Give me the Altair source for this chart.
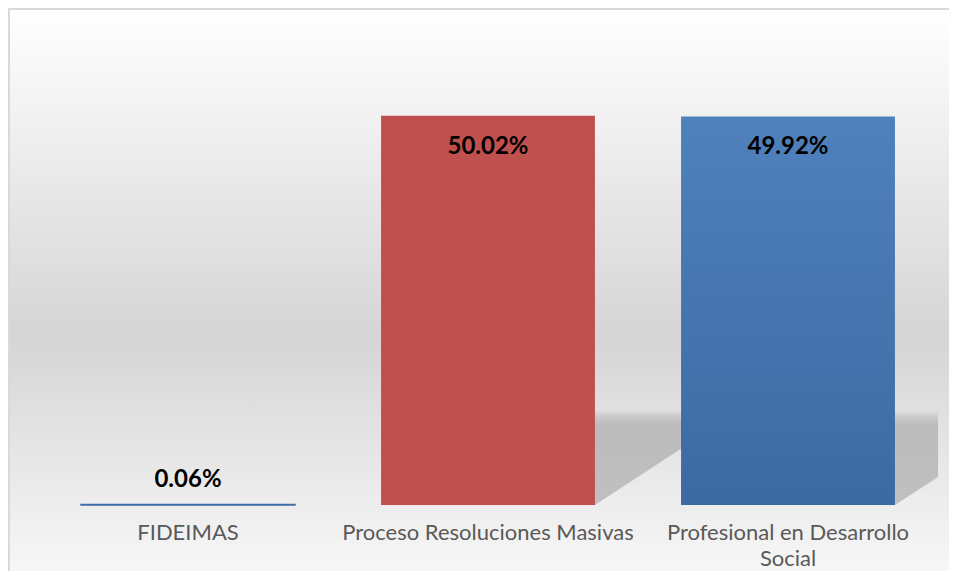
import altair as alt
import pandas as pd

# ---- data ----
categorias = ["FIDEIMAS", "Proceso Resoluciones Masivas", "Profesional en Desarrollo Social"]
valores = [0.06, 50.02, 49.92]
etiquetas = ["0.06%", "50.02%", "49.92%"]

df = pd.DataFrame({"categoria": categorias, "valor": valores, "etiqueta": etiquetas,
                   "idx": list(range(len(categorias)))})

# ---- style ----
W, H = 900, 467
PAD_IN = 0.287
HALF = (1 - PAD_IN) / 2          # half bar width in category-step units
SHADOW_H = 0.24                  # shadow height relative to bar height
SHEAR = 0.477                    # horizontal shear of the shadow (step units)

rows = []
for c, v, i in zip(categorias, valores, df["idx"]):
    rows.append({"categoria": c, "sy": 0.0, "sx": i - HALF, "sx2": i + HALF})
    rows.append({"categoria": c, "sy": v * SHADOW_H, "sx": i - HALF + SHEAR, "sx2": i + HALF + SHEAR})
sombra = pd.DataFrame(rows)

yscale = alt.Scale(domain=[0, 60], nice=False, zero=True)

bg_grad = alt.LinearGradient(
    gradient="linear", x1=0, x2=0, y1=0, y2=1,
    stops=[alt.GradientStop(color="#ffffff", offset=0),
           alt.GradientStop(color="#d5d5d5", offset=0.54),
           alt.GradientStop(color="#fdfdfd", offset=1)])

blue_grad = {"gradient": "linear", "x1": 0, "x2": 0, "y1": 0, "y2": 1,
             "stops": [{"color": "#4f81bd", "offset": 0}, {"color": "#3c69a2", "offset": 1}]}

shadow_grad = alt.LinearGradient(
    gradient="linear", x1=0, x2=0, y1=0, y2=1,
    stops=[alt.GradientStop(color="#dadada", offset=0),
           alt.GradientStop(color="#cacaca", offset=0.06),
           alt.GradientStop(color="#bbbbbb", offset=0.14),
           alt.GradientStop(color="#c0c0c0", offset=1)])

fondo = alt.Chart(alt.Data(values=[{"k": 0}])).mark_rect(
    fill=bg_grad, stroke="#d9d9d9", strokeWidth=2
).encode(
    x=alt.value(-29), x2=alt.value(W + 60),
    y=alt.value(-29), y2=alt.value(H + 110),
)

capa_sombra = alt.Chart(sombra).mark_area(
    orient="horizontal", fill=shadow_grad, clip=True
).encode(
    y=alt.Y("sy:Q", scale=yscale, axis=None),
    x=alt.X("sx:Q", scale=alt.Scale(domain=[-0.5, 2.5], nice=False, zero=False), axis=None),
    x2="sx2:Q",
    detail="categoria:N",
)

band = alt.Scale(domain=categorias, paddingInner=PAD_IN, paddingOuter=PAD_IN / 2)

xband = alt.X(
    "categoria:N", sort=categorias, title=None, scale=band,
    axis=alt.Axis(
        labelAngle=0, domain=False, ticks=False, labelPadding=17, zindex=2,
        labelColor="#595959", labelFont="Lato", labelFontSize=22,
        labelLineHeight=26, labelLimit=400,
        labelExpr="datum.label == 'Profesional en Desarrollo Social' ? ['Profesional en Desarrollo', 'Social'] : datum.label",
    ),
)

barras = alt.Chart(df).mark_bar(strokeWidth=1.5).encode(
    x=xband,
    y=alt.Y("valor:Q", scale=yscale, axis=None),
    fill=alt.condition(alt.datum.categoria == "Proceso Resoluciones Masivas",
                       alt.value("#c0504d"), alt.value(blue_grad)),
    stroke=alt.condition(alt.datum.valor < 1, alt.value("#3f6ba4"), alt.value("transparent")),
)

texto_dentro = alt.Chart(df).transform_filter(alt.datum.valor >= 5).mark_text(
    font="Lato", fontSize=24, fontWeight="bold", color="#000000",
    baseline="alphabetic", dy=38
).encode(x=alt.X("categoria:N", sort=categorias, scale=band),
         y=alt.Y("valor:Q", scale=yscale), text="etiqueta:N")

texto_fuera = alt.Chart(df).transform_filter(alt.datum.valor < 5).mark_text(
    font="Lato", fontSize=24, fontWeight="bold", color="#000000",
    baseline="alphabetic", dy=-18
).encode(x=alt.X("categoria:N", sort=categorias, scale=band),
         y=alt.Y("valor:Q", scale=yscale), text="etiqueta:N")

principal = alt.layer(barras, texto_dentro, texto_fuera)

chart = alt.layer(fondo, capa_sombra, principal).resolve_scale(
    x="independent"
).properties(
    width=W, height=H,
    padding={"left": 30, "top": 30, "right": 11, "bottom": 66},
    autosize=alt.AutoSizeParams(type="none"),
    background="#ffffff",
).configure_view(strokeWidth=0)

chart.save("out.html", embed_options={"renderer": "svg", "actions": False})
